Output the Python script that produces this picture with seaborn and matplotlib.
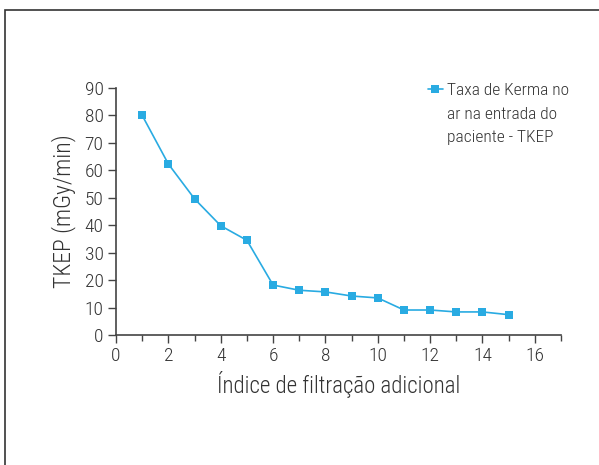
import matplotlib
matplotlib.use("Agg")
import matplotlib.pyplot as plt
import seaborn as sns
import pandas as pd
from matplotlib.patches import Rectangle
from matplotlib.ticker import MultipleLocator

# Data
filtration_index = [1, 2, 3, 4, 5, 6, 7, 8, 9, 10, 11, 12, 13, 14, 15]
tkep_values = [80.0, 62.3, 49.6, 39.8, 34.5, 18.2, 16.3, 15.7, 14.2, 13.5,
               9.1, 9.1, 8.4, 8.4, 7.4]
series_lines = ["Taxa de Kerma no", "ar na entrada do", "paciente - TKEP"]

df = pd.DataFrame({"x": filtration_index, "y": tkep_values})

sns.set_style("white")
plt.rcParams["font.family"] = ["Roboto Condensed", "DejaVu Sans"]
plt.rcParams["font.weight"] = "light"

fig = plt.figure(figsize=(5.99, 4.65), dpi=100)
ax = fig.add_axes([0.1937, 0.2796, 0.7429, 0.5312])

# outer frame of the figure panel
fig.patches.append(Rectangle((5 / 599, -0.1), 1.2, 0.1 + (465 - 10) / 465,
                             transform=fig.transFigure, fill=False,
                             edgecolor="#333333", linewidth=1.2))

color = "#29abe2"
text_col = "#333333"
sns.lineplot(data=df, x="x", y="y", ax=ax, color=color, marker="s",
             markersize=6, markeredgewidth=0, linewidth=1.2,
             label=series_lines[0])

ax.set_ylim(0, 90)
ax.set_xticks([0, 2, 4, 6, 8, 10, 12, 14, 16])
ax.xaxis.set_minor_locator(MultipleLocator(1))
ax.yaxis.set_major_locator(MultipleLocator(10))
ax.set_xlim(0, 17)

for side in ["top", "right"]:
    ax.spines[side].set_visible(False)
for side in ["left", "bottom"]:
    ax.spines[side].set_color("#444444")
    ax.spines[side].set_linewidth(1.2)

ax.tick_params(axis="both", which="major", direction="out", length=6,
               width=1, color="#444444", labelsize=14, labelcolor=text_col,
               bottom=True, left=True, pad=3)
ax.tick_params(axis="x", which="minor", direction="out", length=4,
               width=1, color="#444444", bottom=True)

ax.set_xlabel("Índice de filtração adicional", fontsize=16.5, color=text_col,
              labelpad=4, fontweight="light")
ax.set_ylabel("TKEP (mGy/min)", fontsize=17, color=text_col, labelpad=6,
              fontweight="light")

leg = ax.legend(loc="upper left", bbox_to_anchor=(0.665, 1.085), frameon=False,
                fontsize=12.5, handlelength=0.9, handletextpad=0.2,
                labelcolor=text_col)

# remaining legend lines aligned under the first one
fig.canvas.draw()
bb = leg.get_texts()[0].get_window_extent().transformed(fig.transFigure.inverted())
fig.text(bb.x0, bb.y0 - 0.02, "\n".join(series_lines[1:]), fontsize=12.5,
         color=text_col, va="top", ha="left", linespacing=1.65)

fig.savefig("out.png", dpi=100)
